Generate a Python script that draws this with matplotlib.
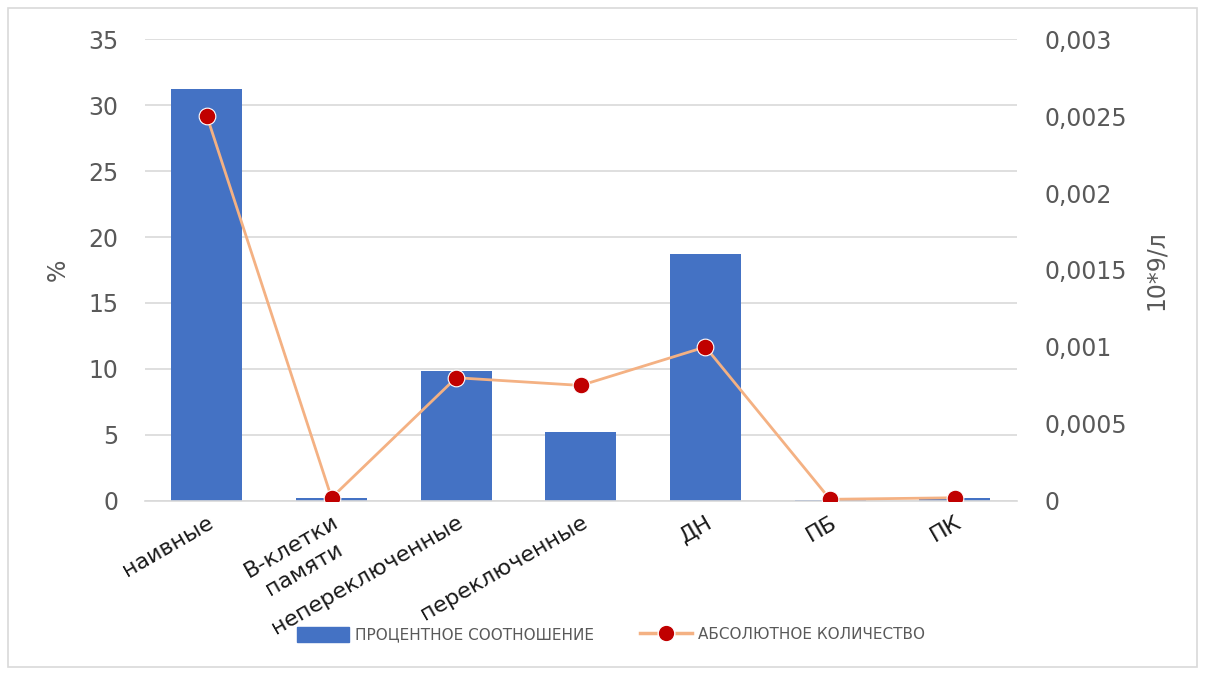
import matplotlib.pyplot as plt
import matplotlib.ticker as ticker
from matplotlib.patches import Rectangle
from matplotlib.lines import Line2D
from matplotlib.patches import Patch

# data
categories = ['наивные', 'B-клетки\nпамяти', 'непереключенные', 'переключенные', 'ДН', 'ПБ', 'ПК']
percent = [31.2, 0.2, 9.85, 5.2, 18.7, 0.1, 0.25]
absolute = [0.0025, 0.00002, 0.0008, 0.00075, 0.001, 0.00001, 0.00002]

grey = '#595959'
bar_col = '#4472C4'
line_col = '#F4B183'
dot_col = '#C00000'

fig = plt.figure(figsize=(12.05, 6.75), dpi=100)
ax = fig.add_axes([0.120, 0.258, 0.724, 0.684])

x = list(range(len(categories)))
ax.bar(x, percent, width=0.57, color=bar_col, zorder=2)
ax.set_xlim(-0.5, len(categories) - 0.5)
ax.set_ylim(0, 35)
ax.set_yticks(range(0, 36, 5))
ax.grid(axis='y', color='#d9d9d9', linewidth=1.2, zorder=0)
for s in ['top', 'right', 'left']:
    ax.spines[s].set_visible(False)
ax.spines['bottom'].set_color('#d9d9d9')
ax.spines['bottom'].set_linewidth(1.2)
ax.tick_params(axis='y', length=0, labelsize=17, labelcolor=grey, pad=19)
ax.set_xticks(x)
ax.set_xticklabels(categories, rotation=30, ha='right', rotation_mode='anchor',
                   fontsize=16, color='#1a1a1a')
for lab in ax.get_xticklabels():
    lab.set_multialignment('center')
    lab.set_linespacing(1.4)
ax.tick_params(axis='x', length=0, pad=8)
ax.set_ylabel('%', fontsize=17, color=grey, labelpad=13)

ax2 = ax.twinx()
ax2.plot(x, absolute, color=line_col, linewidth=2, zorder=3, marker='o',
         markersize=12, markerfacecolor=dot_col, markeredgecolor='white', markeredgewidth=0.8)
ax2.set_ylim(0, 0.003)
ax2.set_yticks([0, 0.0005, 0.001, 0.0015, 0.002, 0.0025, 0.003])
ax2.yaxis.set_major_formatter(ticker.FuncFormatter(lambda v, p: ('%g' % v).replace('.', ',') if v else '0'))
ax2.tick_params(axis='y', length=0, labelsize=17, labelcolor=grey, pad=20)
for s in ax2.spines.values():
    s.set_visible(False)
ax2.set_ylabel('10*9/л', fontsize=17, color=grey, labelpad=12)

handles = [Patch(color=bar_col),
           Line2D([], [], color=line_col, linewidth=2.5, marker='o', markersize=12,
                  markerfacecolor=dot_col, markeredgecolor='white')]
fig.legend(handles, ['ПРОЦЕНТНОЕ СООТНОШЕНИЕ', 'АБСОЛЮТНОЕ КОЛИЧЕСТВО'], loc='center',
           bbox_to_anchor=(0.507, 0.06), ncol=2, frameon=False, fontsize=11,
           labelcolor=grey, handlelength=3.4, handleheight=1.2, columnspacing=3.0, handletextpad=0.4)

fig.patches.append(Rectangle((0.007, 0.012), 0.986, 0.976, transform=fig.transFigure,
                             fill=False, edgecolor='#d9d9d9', linewidth=1.2))

fig.savefig('out.png', dpi=100)
